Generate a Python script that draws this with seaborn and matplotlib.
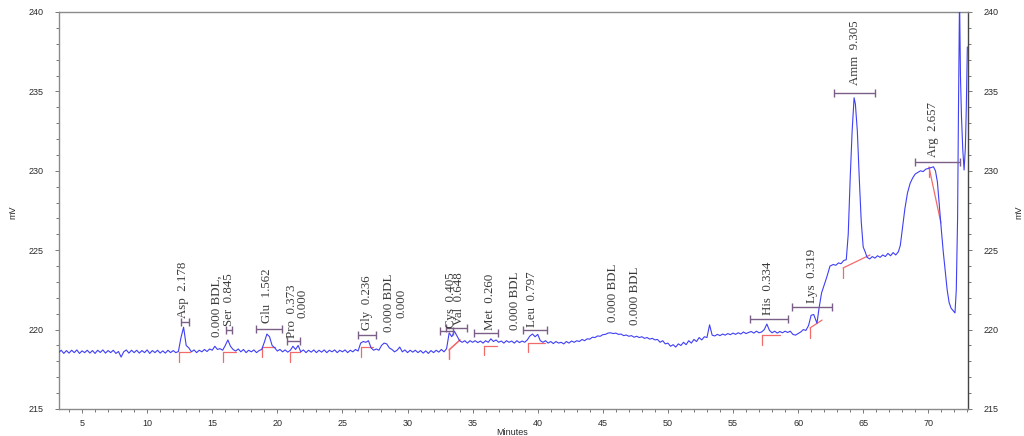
import numpy as np
import pandas as pd
import matplotlib
matplotlib.use("Agg")
import matplotlib.pyplot as plt
from matplotlib.ticker import MultipleLocator
import seaborn as sns

# ---------------- data ----------------
# regularly sampled part of the trace (minutes 3.2 .. 61.0, every 0.2 min)
sample_start, sample_stop, sample_step = 3.2, 61.0, 0.2
signal_regular = [
    218.55, 218.70, 218.50, 218.68, 218.52, 218.70, 218.55, 218.72, 218.50, 218.66,
    218.55, 218.70, 218.52, 218.68, 218.50, 218.70, 218.56, 218.72, 218.52, 218.68,
    218.55, 218.70, 218.50, 218.62, 218.27, 218.60, 218.72, 218.52, 218.70, 218.55,
    218.70, 218.52, 218.68, 218.55, 218.72, 218.50, 218.68, 218.55, 218.70, 218.52,
    218.66, 218.52, 218.70, 218.55, 218.68, 218.55, 218.62, 219.50, 220.15, 219.00,
    218.85, 218.60, 218.72, 218.55, 218.70, 218.60, 218.75, 218.62, 218.78, 218.70,
    218.95, 218.75, 218.80, 218.70, 219.00, 219.35, 218.95, 218.75, 218.65, 218.78,
    218.60, 218.75, 218.55, 218.70, 218.60, 218.72, 218.55, 218.68, 218.75, 219.20,
    219.72, 219.55, 219.00, 218.85, 218.65, 218.75, 218.60, 218.72, 218.58, 218.70,
    218.95, 218.75, 219.00, 218.60, 218.72, 218.55, 218.70, 218.58, 218.72, 218.55,
    218.70, 218.58, 218.72, 218.55, 218.70, 218.60, 218.72, 218.55, 218.70, 218.60,
    218.72, 218.55, 218.70, 218.60, 218.75, 218.65, 219.15, 219.25, 219.20, 219.30,
    218.85, 218.70, 218.78, 218.70, 219.00, 219.15, 219.10, 218.85, 218.75, 218.60,
    218.70, 218.90, 218.60, 218.72, 218.55, 218.70, 218.58, 218.70, 218.55, 218.68,
    218.52, 218.66, 218.50, 218.68, 218.55, 218.70, 218.58, 218.75, 218.60, 218.80,
    219.80, 219.55, 219.90, 219.60, 219.30, 219.20, 219.30, 219.15, 219.30, 219.20,
    219.30, 219.18, 219.28, 219.15, 219.30, 219.20, 219.42, 219.25, 219.35, 219.20,
    219.28, 219.15, 219.30, 219.20, 219.28, 219.15, 219.30, 219.18, 219.28, 219.20,
    219.35, 219.60, 219.72, 219.55, 219.70, 219.30, 219.20, 219.30, 219.15, 219.25,
    219.12, 219.25, 219.15, 219.20, 219.10, 219.25, 219.15, 219.28, 219.20, 219.30,
    219.25, 219.38, 219.30, 219.42, 219.40, 219.52, 219.50, 219.60, 219.58, 219.68,
    219.70, 219.78, 219.80, 219.75, 219.78, 219.70, 219.72, 219.62, 219.66, 219.58,
    219.62, 219.52, 219.58, 219.50, 219.55, 219.45, 219.50, 219.40, 219.45, 219.35,
    219.38, 219.20, 219.30, 219.10, 219.15, 218.95, 219.05, 218.90, 219.10, 219.00,
    219.20, 219.05, 219.30, 219.15, 219.38, 219.25, 219.50, 219.35, 219.55, 219.50,
    220.30, 219.65, 219.60, 219.70, 219.62, 219.72, 219.65, 219.75, 219.68, 219.78,
    219.70, 219.80, 219.72, 219.85, 219.75, 219.82, 219.88, 219.78, 219.90, 219.80,
    219.85, 220.00, 220.35, 219.95, 219.80, 219.90, 219.78, 219.88, 219.80, 219.90,
    219.82, 219.90, 219.70, 219.65, 219.75, 219.85, 220.00, 219.95, 220.25, 220.90,
]
# late, steep part of the trace
time_tail = [61.2, 61.45, 61.6, 61.8, 62.0, 62.2, 62.45, 62.7, 62.9, 63.1,
             63.3, 63.5, 63.7, 63.85, 64.0, 64.15, 64.3, 64.4, 64.55, 64.7,
             64.85, 65.0, 65.15, 65.3, 65.5, 65.7, 65.9, 66.1, 66.3, 66.5,
             66.7, 66.9, 67.1, 67.3, 67.5, 67.7, 67.85, 68.0, 68.2, 68.4,
             68.6, 68.8, 69.0, 69.2, 69.4, 69.6, 69.8, 70.0, 70.2, 70.4,
             70.55, 70.7, 70.85, 71.0, 71.15, 71.3, 71.45, 71.6, 71.75, 71.9,
             72.05, 72.15, 72.25, 72.32, 72.4, 72.47, 72.55, 72.65, 72.75, 72.85,
             72.92, 73.0]
signal_tail = [220.95, 220.40, 221.30, 222.30, 222.80, 223.30, 224.00, 224.10, 224.05, 224.20,
               224.15, 224.35, 224.40, 226.00, 229.50, 232.50, 234.60, 234.20, 232.50, 229.50,
               226.80, 225.20, 224.90, 224.55, 224.45, 224.60, 224.50, 224.65, 224.55, 224.70,
               224.60, 224.80, 224.65, 224.85, 224.70, 224.90, 225.30, 226.30, 227.60, 228.60,
               229.20, 229.55, 229.80, 229.90, 230.00, 229.95, 230.10, 230.15, 230.20, 230.25,
               230.00, 229.30, 227.80, 226.30, 224.90, 223.70, 222.50, 221.70, 221.35, 221.20,
               221.05, 222.50, 227.00, 234.00, 241.00, 236.00, 233.40, 231.30, 230.05, 231.50,
               234.00, 237.80]

# integrated peaks
peak_names   = ["Asp", "Ser", "Glu", "Pro", "Gly", "Cys", "Val", "Met", "Leu", "His", "Lys", "Amm", "Arg"]
peak_amounts = ["2.178", "0.845", "1.562", "0.373", "0.236", "0.405", "0.648", "0.260", "0.797",
                "0.334", "0.319", "9.305", "2.657"]
label_time   = [12.76, 16.29, 19.21, 21.13, 26.89, 33.36, 33.95, 36.34, 39.56, 57.69, 61.07, 64.37, 70.36]
label_mv     = [220.73, 220.23, 220.42, 219.47, 219.97, 220.10, 220.29, 219.97, 220.16, 220.92, 221.67, 235.40, 230.87]
window_start = [12.60, 16.06, 18.36, 20.75, 26.20, 32.50, 32.96, 35.11, 38.87, 56.30, 59.53, 62.76, 68.98]
window_end   = [13.22, 16.52, 20.36, 21.74, 27.58, 33.50, 34.57, 36.95, 40.71, 59.22, 62.60, 65.90, 72.44]
window_mv    = [220.48, 219.97, 220.04, 219.28, 219.66, 219.91, 220.10, 219.78, 219.97, 220.67, 221.42, 234.90, 230.55]
base_t0      = [12.45, 15.83, 18.82, 20.95, 26.43, 33.19, 33.19, 35.88, 39.25, 57.23, 60.91, 63.45, 70.05]
base_t1      = [13.30, 16.83, 19.82, 21.75, 27.35, 34.03, 34.03, 36.87, 40.56, 58.61, 61.84, 65.52, 70.97]
base_mv0     = [218.59, 218.59, 218.90, 218.59, 218.90, 218.72, 218.72, 218.97, 219.16, 219.66, 220.10, 223.88, 230.24]
base_mv1     = [218.59, 218.59, 218.90, 218.59, 218.90, 219.35, 219.35, 218.97, 219.16, 219.66, 220.60, 224.70, 226.71]

# below-detection-limit labels
bdl_text = ["0.000 BDL,", "0.000", "0.000 BDL", "0.000", "0.000 BDL", "0.000 BDL", "0.000 BDL"]
bdl_time = [15.37, 21.90, 28.58, 29.52, 38.26, 45.78, 47.47]
bdl_mv   = [219.53, 220.73, 219.85, 220.73, 219.97, 220.48, 220.29]

x_limits = (3.23, 73.05)
y_limits = (215, 240)

# ---------------- plot ----------------
sns.set_style("white")
plt.rcParams["font.family"] = ["Liberation Sans", "DejaVu Sans"]

time_regular = np.round(np.arange(sample_start, sample_stop + sample_step / 2, sample_step), 2)
df = pd.DataFrame({
    "Minutes": np.concatenate([time_regular, time_tail]),
    "mV": np.concatenate([signal_regular, signal_tail]),
})

fig = plt.figure(figsize=(10.24, 4.36), dpi=100)
ax = fig.add_axes([59 / 1024, 1 - 409 / 436, (968 - 59) / 1024, (409 - 12) / 436])

trace_color = "#3f3ff5"
bracket_color = "#7b5f87"
base_color = "#f26b6b"
label_color = "#3a3a3a"

# baseline markers
for t0, t1, v0, v1 in zip(base_t0, base_t1, base_mv0, base_mv1):
    ax.plot([t0, t1], [v0, v1], color=base_color, lw=0.9, zorder=3)
    ax.plot([t0, t0], [v0, v0 - 0.6], color=base_color, lw=0.9, zorder=3)

sns.lineplot(data=df, x="Minutes", y="mV", ax=ax, color=trace_color, lw=0.8,
             estimator=None, sort=False, zorder=4)

# integration windows
for s, e, v in zip(window_start, window_end, window_mv):
    ax.errorbar([(s + e) / 2], [v], xerr=[(e - s) / 2], fmt="none",
                ecolor=bracket_color, elinewidth=1.0, capsize=3.2, capthick=1.0, zorder=5)

serif = ["Liberation Serif", "DejaVu Serif"]
for name, amt, t, v in zip(peak_names, peak_amounts, label_time, label_mv):
    ax.text(t, v, f"{name}  {amt}", rotation=90, ha="center", va="bottom",
            fontsize=9.3, family=serif, color=label_color, zorder=6)
for txt, t, v in zip(bdl_text, bdl_time, bdl_mv):
    ax.text(t, v, txt, rotation=90, ha="center", va="bottom",
            fontsize=9.3, family=serif, color=label_color, zorder=6)

ax.set_xlim(*x_limits)
ax.set_ylim(*y_limits)
ax.xaxis.set_major_locator(MultipleLocator(5))
ax.xaxis.set_minor_locator(MultipleLocator(1))
ax.yaxis.set_major_locator(MultipleLocator(5))
ax.yaxis.set_minor_locator(MultipleLocator(1))
ax.set_xticks([t for t in range(5, 71, 5)])

ax.tick_params(axis="both", which="both", direction="out", colors="#777777",
               labelcolor="#2a2a2a", labelsize=6.5, width=0.7)
ax.tick_params(axis="both", which="major", length=3)
ax.tick_params(axis="both", which="minor", length=2)
ax.tick_params(axis="y", which="both", left=True, right=True, labelleft=True, labelright=True, pad=8)
ax.tick_params(axis="x", which="both", bottom=True, pad=4)

for side in ["left", "top", "bottom"]:
    ax.spines[side].set_color("#8a8a8a")
    ax.spines[side].set_linewidth(1.0)
ax.spines["right"].set_color("#444444")
ax.spines["right"].set_linewidth(1.0)

ax.set_xlabel("")
ax.set_ylabel("")
fig.text(512 / 1024, 1 - 432 / 436, "Minutes", ha="center", va="center", fontsize=6.5, color="#2a2a2a")
fig.text(13 / 1024, 1 - 212 / 436, "mV", ha="center", va="center", rotation=90, fontsize=6.5, color="#2a2a2a")
fig.text(1019 / 1024, 1 - 212 / 436, "mV", ha="center", va="center", rotation=90, fontsize=6.5, color="#2a2a2a")

fig.savefig("out.png", dpi=100)
